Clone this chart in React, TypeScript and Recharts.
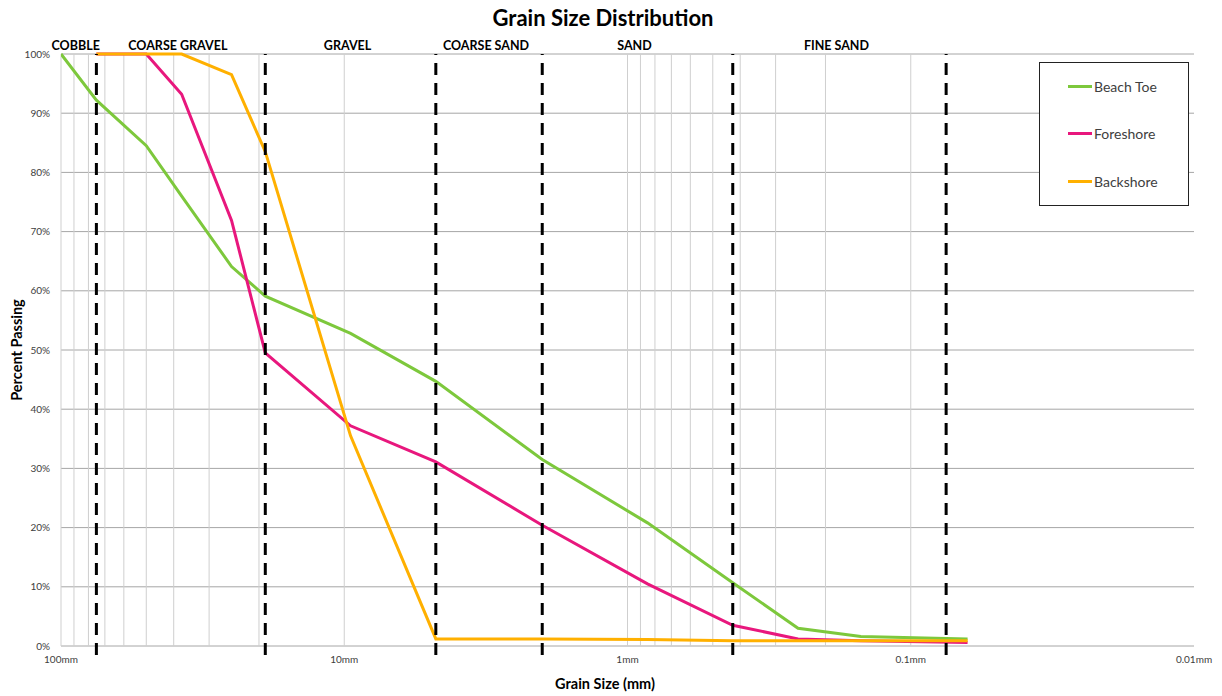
import React from 'react';
import { LineChart, Line, XAxis, YAxis, CartesianGrid, ReferenceLine, ReferenceArea, Legend } from 'recharts';

const sizesMm = [100, 75, 50, 37.5, 25, 19, 9.5, 4.75, 2, 0.85, 0.425, 0.25, 0.15, 0.063];
const beachToe = [100, 92.2, 84.5, 76.0, 64.1, 59.1, 52.8, 44.7, 31.5, 20.8, 10.7, 3.0, 1.6, 1.2];
const foreshore = [null, 100, 100, 93.2, 71.9, 49.5, 37.2, 31.1, 20.4, 10.5, 3.5, 1.2, 0.9, 0.6];
const backshore = [null, 100, 100, 100, 96.5, 83.5, 35.5, 1.2, 1.2, 1.1, 0.9, 0.9, 0.9, 0.9];

const xTicks = [100, 10, 1, 0.1, 0.01];
const yTicks = [0, 10, 20, 30, 40, 50, 60, 70, 80, 90, 100];
const gridSizes = [100, 90, 80, 70, 60, 50, 40, 30, 20, 10, 1, 0.9, 0.8, 0.7, 0.6, 0.5, 0.4, 0.3, 0.2, 0.1];
const boundaries = [75, 19, 4.75, 2, 0.425, 0.075];
const regionNames = ['COBBLE', 'COARSE GRAVEL', 'GRAVEL', 'COARSE SAND', 'SAND', 'FINE SAND'];
const regionEdges = [100, 75, 19, 4.75, 2, 0.425, 0.075];

const seriesNames = ['Beach Toe', 'Foreshore', 'Backshore'];
const seriesColors = ['#7DC83C', '#E8177D', '#FFB000'];

const data = sizesMm.map((s, i) => ({
  size: s,
  beachToe: beachToe[i],
  foreshore: foreshore[i],
  backshore: backshore[i],
}));

const FONT = 'Lato, "Open Sans", sans-serif';

const LegendBox = (props: any) => {
  const payload = [...(props.payload || [])].sort(
    (a: any, b: any) => seriesNames.indexOf(a.value) - seriesNames.indexOf(b.value)
  );
  return (
    <div style={{ width: 148, height: 142, border: '1px solid #222', background: '#fff', position: 'absolute', left: 0, top: 0, fontFamily: FONT }}>
      {payload.map((p: any, i: number) => (
        <div key={i} style={{ position: 'absolute', left: 28, top: 13 + i * 47.5, height: 20, display: 'flex', alignItems: 'center', whiteSpace: 'nowrap' }}>
          <div style={{ width: 24, height: 3, background: p.color }} />
          <span style={{ marginLeft: 2, fontSize: 14, color: '#404040' }}>{p.value}</span>
        </div>
      ))}
    </div>
  );
};

const RegionLabel = (props: any) => {
  const { viewBox, value } = props;
  const x = viewBox.x + viewBox.width / 2 - 3;
  const y = viewBox.y - 4;
  return (
    <text x={x} y={y} textAnchor="middle" fontFamily={FONT} fontWeight={700} fontSize={12.5} fill="#000">
      {value}
    </text>
  );
};

export default function App() {
  const keys = ['beachToe', 'foreshore', 'backshore'];
  return (
    <div style={{ position: 'absolute', left: 0, top: 0, width: 1222, height: 696, background: '#fff', fontFamily: FONT }}>
      <LineChart width={1222} height={696} data={data} margin={{ top: 54, right: 28, bottom: 0, left: 21 }}>
        <CartesianGrid horizontal vertical={false} stroke="#a6a6a6" />
        {gridSizes.map((g) => (
          <ReferenceLine key={'g' + g} x={g} stroke="#cfcfcf" strokeWidth={1} />
        ))}
        <XAxis
          dataKey="size"
          type="number"
          scale="log"
          domain={[0.01, 100]}
          reversed
          allowDataOverflow
          ticks={xTicks}
          tickFormatter={(v: number) => `${v}mm`}
          axisLine={false}
          tickLine={false}
          tick={{ fontSize: 10, fill: '#404040', fontFamily: FONT }}
          tickMargin={4}
          height={50}
        />
        <YAxis
          type="number"
          domain={[0, 100]}
          ticks={yTicks}
          tickFormatter={(v: number) => `${v}%`}
          axisLine={false}
          tickLine={false}
          tick={{ fontSize: 10, fill: '#404040', fontFamily: FONT }}
          tickMargin={5}
          width={40}
        />
        {regionNames.map((n, i) => (
          <ReferenceArea
            key={n}
            x1={regionEdges[i]}
            x2={regionEdges[i + 1]}
            y1={0}
            y2={100}
            fill="none"
            fillOpacity={0}
            stroke="none"
            label={<RegionLabel value={n} />}
          />
        ))}
        {keys.map((k, i) => (
          <Line
            key={k}
            dataKey={k}
            name={seriesNames[i]}
            stroke={seriesColors[i]}
            strokeWidth={3}
            dot={false}
            activeDot={false}
            type="linear"
            isAnimationActive={false}
          />
        ))}
        {boundaries.map((b) => (
          <ReferenceLine
            key={'b' + b}
            segment={[{ x: b, y: -1.5 }, { x: b, y: 100 }]}
            ifOverflow="visible"
            stroke="#000"
            strokeWidth={3}
            strokeDasharray="12 8"
          />
        ))}
        <Legend
          content={<LegendBox />}
          wrapperStyle={{ position: 'absolute', left: 1039, top: 62, width: 0, height: 0, overflow: 'visible' }}
        />
      </LineChart>
      <div style={{ position: 'absolute', left: 0, width: 1206, top: 4, textAlign: 'center', fontWeight: 700, fontSize: 22, color: '#000', lineHeight: '28px' }}>
        Grain Size Distribution
      </div>
      <div style={{ position: 'absolute', left: 0, width: 1210, top: 674, textAlign: 'center', fontWeight: 700, fontSize: 14.5, color: '#000', lineHeight: '20px' }}>
        Grain Size (mm)
      </div>
      <div style={{ position: 'absolute', left: 17, top: 350, transform: 'translate(-50%, -50%) rotate(-90deg)', whiteSpace: 'nowrap', fontWeight: 700, fontSize: 14.5, color: '#000', lineHeight: '20px' }}>
        Percent Passing
      </div>
    </div>
  );
}
